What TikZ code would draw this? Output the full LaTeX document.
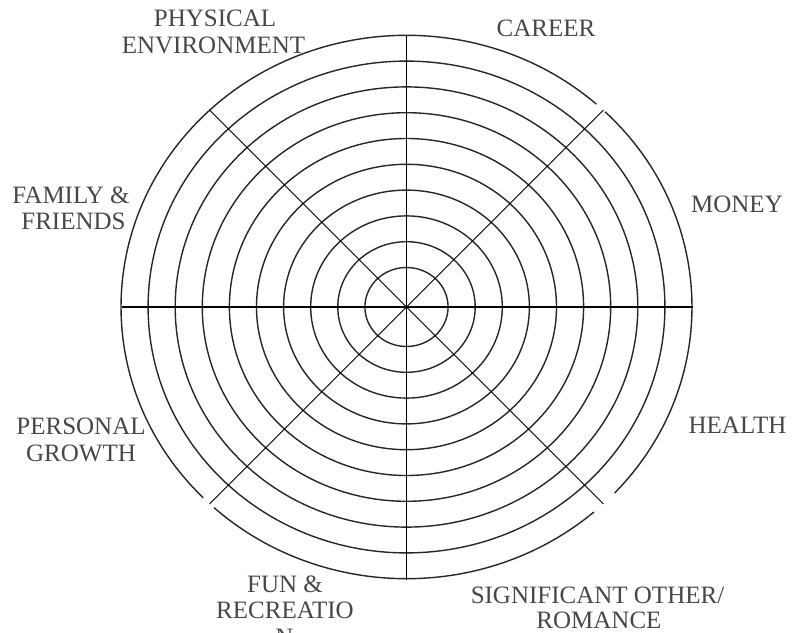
\documentclass[tikz,border=0pt]{standalone}
\usepackage{fontspec}
\setmainfont{Liberation Serif}
\begin{document}
\begin{tikzpicture}[x=1pt,y=1pt,
  ring/.style={line width=1.4pt,black!85},
  axis/.style={line width=1.4pt,black},
  diag/.style={line width=1pt,black},
  lbl/.style={anchor=base,inner sep=0pt,text=black!72,font=\fontsize{25}{26}\selectfont}]
\useasboundingbox (-406.5,-325) rectangle (385.5,307);
\coordinate (C) at (0,0);
% full rings 1..9
\foreach \rx/\ry in {41.6/39.5,68.7/65.3,95.8/91.1,122.9/116.9,150/142.7,177.1/168.5,204.2/194.3,231.3/220.1,258.4/245.9}
  \draw[ring] (C) ellipse [x radius=\rx, y radius=\ry];
% outer ring with gaps
\draw[ring] (C) ++(48.3:285.5 and 271.7) arc[start angle=48.3, end angle=224.6, x radius=285.5, y radius=271.7];
\draw[ring] (C) ++(227.6:285.5 and 271.7) arc[start angle=227.6, end angle=311, x radius=285.5, y radius=271.7];
\draw[ring] (C) ++(316.8:285.5 and 271.7) arc[start angle=316.8, end angle=405.9, x radius=285.5, y radius=271.7];
% spokes
\coordinate (e) at (286.5,0);
\coordinate (w) at (-284.5,0);
\coordinate (n) at (0,270.5);
\coordinate (s) at (0,-273);
\coordinate (ne) at (196.9,196.9);
\coordinate (nw) at (-196.9,196.9);
\coordinate (se) at (196.9,-196.9);
\coordinate (sw) at (-196.9,-196.9);
\draw[axis] (w) -- (e);
\draw[axis] (n) -- (s);
\draw[diag] (ne) -- (sw);
\draw[diag] (nw) -- (se);
% labels (x_px-406.5, 307-y_px)
\node[lbl] (phys) at (-191.5,280.7) {PHYSICAL};
\node[lbl] (env) at (-193,253.7) {ENVIRONMENT};
\node[lbl] (car) at (139.5,270) {CAREER};
\node[lbl] (mon) at (330.5,95) {MONEY};
\node[lbl] (hea) at (331,-126.5) {HEALTH};
\node[lbl] (fam) at (-335.5,103.5) {FAMILY \&};
\node[lbl] (fri) at (-333,77.5) {FRIENDS};
\node[lbl] (per) at (-325.5,-127) {PERSONAL};
\node[lbl] (gro) at (-325.5,-154) {GROWTH};
\node[lbl] (fun) at (-121.5,-285) {FUN \&};
\node[lbl] (rec) at (-121.5,-311.5) {RECREATIO};
\node[lbl] (recn) at (-122,-338.5) {N};
\node[lbl] (sig) at (191,-296.5) {SIGNIFICANT OTHER/};
\node[lbl] (rom) at (192.5,-321.5) {ROMANCE};
\end{tikzpicture}
\end{document}
